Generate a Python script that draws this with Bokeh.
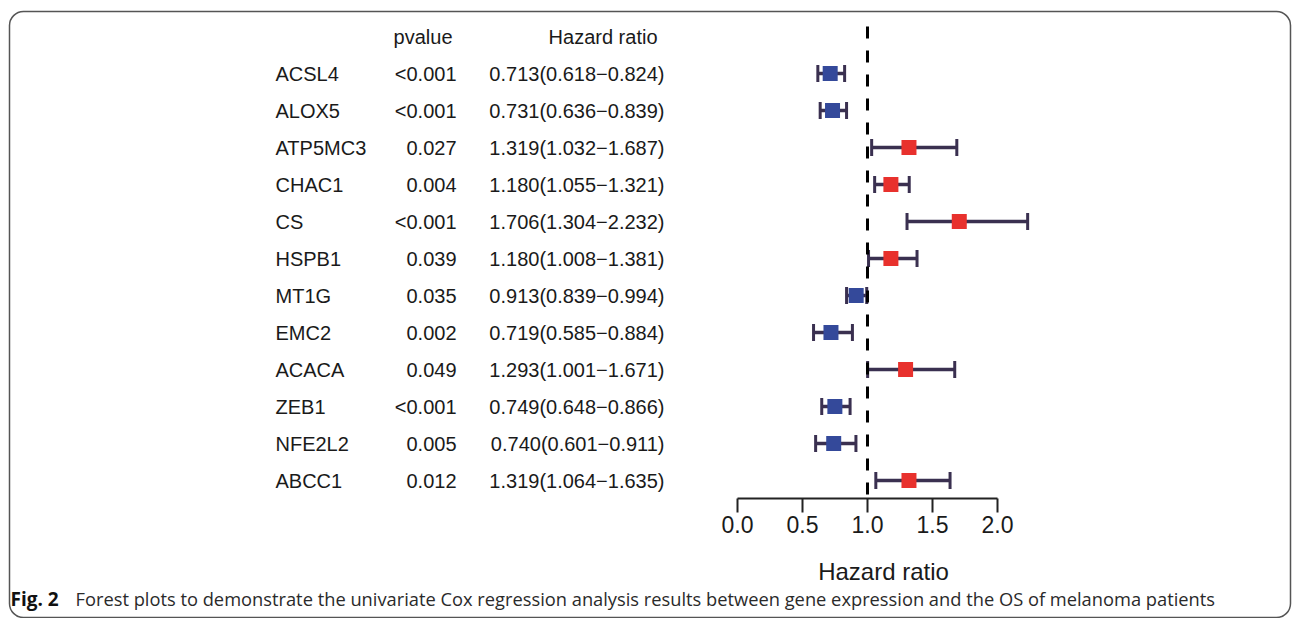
from bokeh.plotting import figure
from bokeh.models import Range1d, LinearAxis, FixedTicker, Whisker, TeeHead, ColumnDataSource, BoxAnnotation
from bokeh.core.properties import value
from bokeh.embed import file_html
from bokeh.resources import INLINE

# ---------------- data ----------------
genes = ["ACSL4", "ALOX5", "ATP5MC3", "CHAC1", "CS", "HSPB1", "MT1G", "EMC2",
         "ACACA", "ZEB1", "NFE2L2", "ABCC1"]
pvalues = ["<0.001", "<0.001", "0.027", "0.004", "<0.001", "0.039", "0.035",
           "0.002", "0.049", "<0.001", "0.005", "0.012"]
hr = [0.713, 0.731, 1.319, 1.180, 1.706, 1.180, 0.913, 0.719, 1.293, 0.749, 0.740, 1.319]
hr_low = [0.618, 0.636, 1.032, 1.055, 1.304, 1.008, 0.839, 0.585, 1.001, 0.648, 0.601, 1.064]
hr_high = [0.824, 0.839, 1.687, 1.321, 2.232, 1.381, 0.994, 0.884, 1.671, 0.866, 0.911, 1.635]
ref_line = 1.0
tick_vals = [0.0, 0.5, 1.0, 1.5, 2.0]
tick_labels = ["0.0", "0.5", "1.0", "1.5", "2.0"]
header_p = "pvalue"
header_hr = "Hazard ratio"
axis_title = "Hazard ratio"
caption_bold = "Fig. 2"
caption_text = ("Forest plots to demonstrate the univariate Cox regression analysis results "
                "between gene expression and the OS of melanoma patients")

# ---------------- layout ----------------
W, H = 1293, 618
X0_PX, PX_PER_HR = 737, 130.0      # HR=0 position and scale
ROW0_PX, ROW_STEP = 73, 37.0       # first row centre and spacing

rows = list(range(len(genes)))
hr_text = ["%.3f(%.3f\u2212%.3f)" % (a, b, c) for a, b, c in zip(hr, hr_low, hr_high)]
colors = ["#E8312D" if v > ref_line else "#34499A" for v in hr]

src = ColumnDataSource(dict(y=rows, gene=genes, p=pvalues, hrt=hr_text,
                            hr=hr, lo=hr_low, hi=hr_high, color=colors))

p = figure(width=W, height=H, output_backend="svg", toolbar_location=None,
           x_range=Range1d(0, W), y_range=Range1d(H, 0),
           x_axis_type=None, y_axis_type=None, min_border=0,
           outline_line_color=None)
p.background_fill_color = "white"
p.border_fill_color = "white"
p.extra_x_ranges = {"hr": Range1d(start=-X0_PX / PX_PER_HR, end=(W - X0_PX) / PX_PER_HR)}
p.extra_y_ranges = {"row": Range1d(start=(H - ROW0_PX) / ROW_STEP, end=-ROW0_PX / ROW_STEP)}

FONT = value("Liberation Sans")
TXT = "#1a1a1a"

# frame
p.add_layout(BoxAnnotation(left=9, right=1290, top=11, bottom=617,
                           fill_alpha=0, line_color="#555555", line_alpha=1.0,
                           line_width=1.5, border_radius=14))

# text columns
p.text(x=275, y="y", text="gene", source=src, y_range_name="row",
       text_align="left", text_baseline="middle", text_font=FONT,
       text_font_size="20px", text_color=TXT)
p.text(x=456, y="y", text="p", source=src, y_range_name="row",
       text_align="right", text_baseline="middle", text_font=FONT,
       text_font_size="20px", text_color=TXT)
p.text(x=664, y="y", text="hrt", source=src, y_range_name="row",
       text_align="right", text_baseline="middle", text_font=FONT,
       text_font_size="20px", text_color=TXT)
p.text(x=[452], y=[-1], text=[header_p], y_range_name="row",
       text_align="right", text_baseline="middle", text_font=FONT,
       text_font_size="20px", text_color=TXT)
p.text(x=[657], y=[-1], text=[header_hr], y_range_name="row",
       text_align="right", text_baseline="middle", text_font=FONT,
       text_font_size="20px", text_color=TXT)

# reference line
p.segment(x0=[ref_line], x1=[ref_line], y0=[26], y1=[498], x_range_name="hr",
          line_color="black", line_width=3, line_dash="12 12")

# error bars
BAR = "#3A3050"
wh = Whisker(source=src, base="y", lower="lo", upper="hi", dimension="width",
             x_range_name="hr", y_range_name="row", line_color=BAR, line_width=3.5,
             lower_head=TeeHead(size=17, line_color=BAR, line_width=3),
             upper_head=TeeHead(size=17, line_color=BAR, line_width=3))
p.add_layout(wh)

p.scatter(x="hr", y="y", source=src, marker="square", size=15,
          fill_color="color", line_color=None, x_range_name="hr", y_range_name="row")

# axis
ax = LinearAxis(x_range_name="hr", fixed_location=498, bounds=(tick_vals[0], tick_vals[-1]),
                ticker=FixedTicker(ticks=tick_vals, minor_ticks=[]),
                major_label_overrides={v: l for v, l in zip(tick_vals, tick_labels)})
ax.axis_line_color = "#222222"
ax.axis_line_width = 2
ax.major_tick_line_color = "#222222"
ax.major_tick_line_width = 2
ax.major_tick_out = 14
ax.major_tick_in = 0
ax.major_label_standoff = 3
ax.major_label_text_font = "Liberation Sans"
ax.major_label_text_font_size = "23px"
ax.major_label_text_color = TXT
p.add_layout(ax, "below")

# axis title (R centres it on the plot region, not on the axis)
p.text(x=[883], y=[571], text=[axis_title], text_align="center", text_baseline="middle",
       text_font=FONT, text_font_size="24px", text_color=TXT)

# caption
p.text(x=[10], y=[598], text=[caption_bold], text_align="left", text_baseline="middle",
       text_font=value("Open Sans"), text_font_style="bold", text_font_size="19px",
       text_color="#111111")
p.text(x=[75], y=[598], text=[caption_text], text_align="left", text_baseline="middle",
       text_font=value("Open Sans"), text_font_size="18.3px", text_color="#2a2a2a")

open("out.html", "w").write(file_html(p, INLINE))
